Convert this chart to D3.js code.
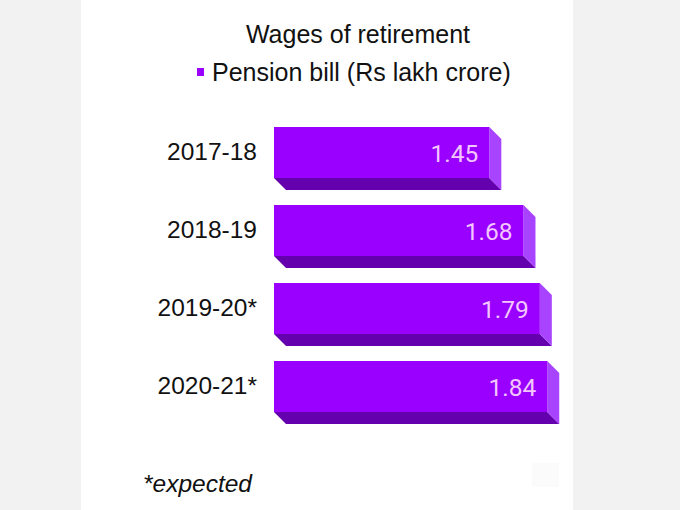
<!DOCTYPE html>
<html>
<head>
<meta charset="utf-8">
<script src="https://cdn.jsdelivr.net/npm/d3@7"></script>
<style>
  html, body { margin: 0; padding: 0; background: #f2f2f2; }
  svg { display: block; }
</style>
</head>
<body>
<script>
const title = "Wages of retirement";
const seriesName = "Pension bill (Rs lakh crore)";
const categories = ["2017-18", "2018-19", "2019-20*", "2020-21*"];
const values = [1.45, 1.68, 1.79, 1.84];
const valueLabels = ["1.45", "1.68", "1.79", "1.84"];
const footnote = "*expected";

const W = 680, H = 510;
const svg = d3.select("body").append("svg").attr("width", W).attr("height", H);

svg.append("rect").attr("x", 0).attr("y", 0).attr("width", W).attr("height", H).attr("fill", "#f2f2f2");
svg.append("rect").attr("x", 81).attr("y", 0).attr("width", 492).attr("height", H).attr("fill", "#ffffff");
svg.append("rect").attr("x", 532).attr("y", 463).attr("width", 27).attr("height", 24).attr("fill", "#fbfbfb");

const x = d3.scaleLinear().domain([0, 2]).range([274, 571]);
const y = d3.scaleBand().domain(categories).range([127, 412]).paddingInner(27 / 78).paddingOuter(0);
const depth = 12;

svg.append("text").attr("x", 358).attr("y", 43).attr("text-anchor", "middle")
  .attr("font-family", "Liberation Sans, Arial, sans-serif").attr("font-size", 25).attr("fill", "#111")
  .text(title);

svg.append("rect").attr("x", 197).attr("y", 68).attr("width", 7).attr("height", 8).attr("fill", "#9900ff");
svg.append("text").attr("x", 212).attr("y", 81)
  .attr("font-family", "Liberation Sans, Arial, sans-serif").attr("font-size", 25).attr("fill", "#111")
  .text(seriesName);

const data = categories.map((c, i) => ({ c, v: values[i], l: valueLabels[i] }));
const g = svg.append("g");
const bars = g.selectAll("g.bar").data(data).join("g").attr("class", "bar");

// bottom face
bars.append("path").attr("fill", "#6400ad").attr("d", d => {
  const x0 = x(0), x1 = x(d.v), yb = y(d.c) + y.bandwidth();
  return `M${x0},${yb}L${x1},${yb}L${x1 + depth},${yb + depth}L${x0 + depth},${yb + depth}Z`;
});
// right side face
bars.append("path").attr("fill", "#a844ff").attr("d", d => {
  const x1 = x(d.v), yt = y(d.c), yb = yt + y.bandwidth();
  return `M${x1},${yt}L${x1 + depth},${yt + depth}L${x1 + depth},${yb + depth}L${x1},${yb}Z`;
});
// front face
bars.append("rect").attr("fill", "#9900ff")
  .attr("x", x(0)).attr("y", d => y(d.c))
  .attr("width", d => x(d.v) - x(0)).attr("height", y.bandwidth());

bars.append("text")
  .attr("x", d => x(d.v) - 11).attr("y", d => y(d.c) + y.bandwidth() / 2 + 9)
  .attr("text-anchor", "end").attr("font-family", "Roboto, sans-serif").attr("font-size", 24.5)
  .attr("fill", "#f4c6ff").text(d => d.l);

svg.append("g").selectAll("text").data(categories).join("text")
  .attr("x", 257).attr("y", d => y(d) + y.bandwidth() / 2 + 7)
  .attr("text-anchor", "end").attr("font-family", "Liberation Sans, Arial, sans-serif")
  .attr("font-size", 24.5).attr("fill", "#111").text(d => d);

svg.append("text").attr("x", 143).attr("y", 492)
  .attr("font-family", "Liberation Sans, Arial, sans-serif").attr("font-size", 24.5)
  .attr("font-style", "italic").attr("fill", "#111").text(footnote);
</script>
</body>
</html>
